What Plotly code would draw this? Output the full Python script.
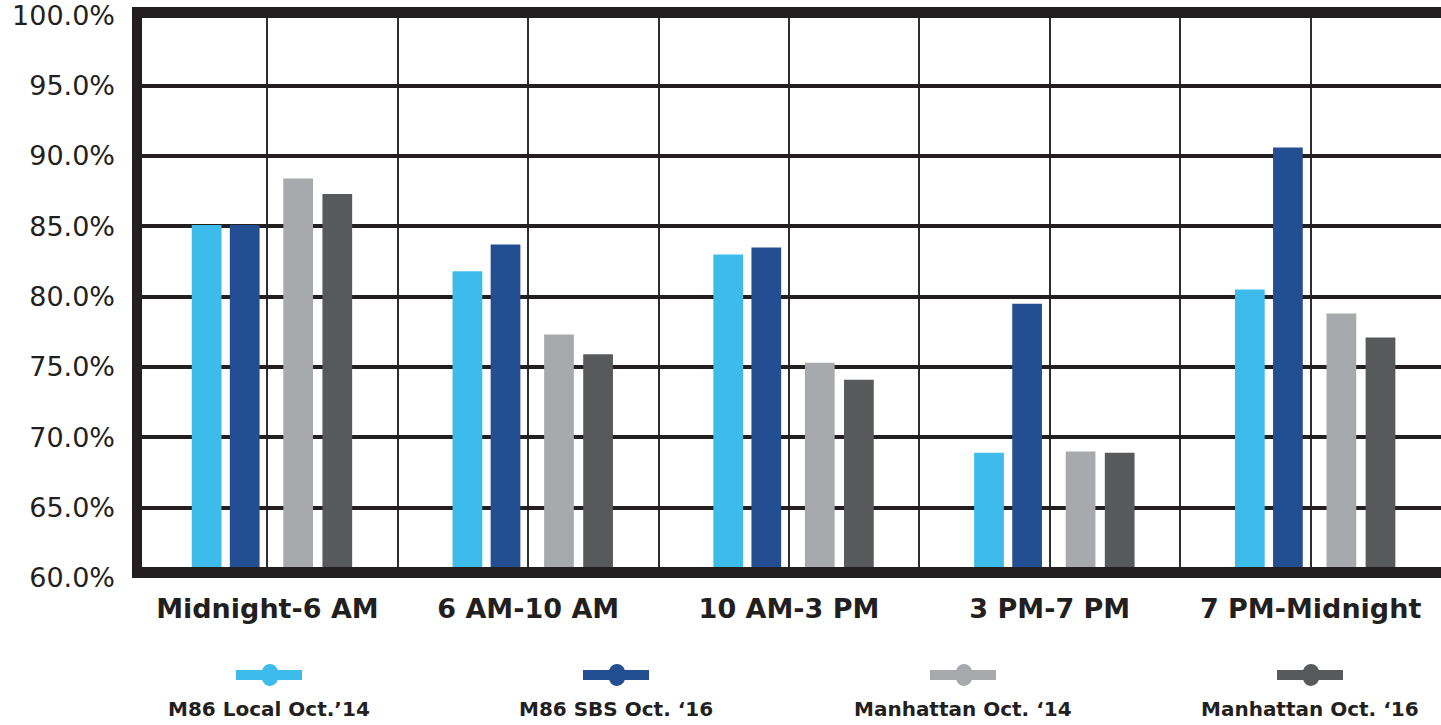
import plotly.graph_objects as go

# ---- data ----
categories = ["Midnight-6 AM", "6 AM-10 AM", "10 AM-3 PM", "3 PM-7 PM", "7 PM-Midnight"]
series_names = ["M86 Local Oct.\u201914", "M86 SBS Oct. \u201816", "Manhattan Oct. \u201814", "Manhattan Oct. \u201816"]
m86_local_oct14 = [85.1, 81.8, 83.0, 68.9, 80.5]
m86_sbs_oct16 = [85.1, 83.7, 83.5, 79.5, 90.6]
manhattan_oct14 = [88.4, 77.3, 75.3, 69.0, 78.8]
manhattan_oct16 = [87.3, 75.9, 74.1, 68.9, 77.1]
y_ticks = [60, 65, 70, 75, 80, 85, 90, 95, 100]
y_tick_labels = ["60.0%", "65.0%", "70.0%", "75.0%", "80.0%", "85.0%", "90.0%", "95.0%", "100.0%"]

# ---- style ----
colors = ["#3dbbeb", "#234f92", "#a8a9ac", "#58595b"]
offsets = [-0.29, -0.144, 0.061, 0.211]
bar_w = 0.114
INK = "#231f20"

W, H = 1441, 725
L, R, T, B = 137, 0, 15, 147
PW, PH = W - L - R, H - T - B

def px_x(px):
    return (px - L) / PW

def px_y(py):
    return (H - B - py) / PH

xpos = list(range(len(categories)))
all_series = [m86_local_oct14, m86_sbs_oct16, manhattan_oct14, manhattan_oct16]

fig = go.Figure()
for name, vals, col, off in zip(series_names, all_series, colors, offsets):
    fig.add_trace(go.Bar(
        x=xpos, y=[v - 60 for v in vals], base=60, name=name,
        marker=dict(color=col, line=dict(width=0)),
        offset=off, width=bar_w, showlegend=False,
        hovertemplate="%{y:.1f}%<extra>" + name + "</extra>",
    ))

fig.update_layout(
    width=W, height=H,
    margin=dict(l=L, r=R, t=T, b=B, pad=0),
    paper_bgcolor="white", plot_bgcolor="white",
    barmode="overlay",
    showlegend=False,
)

fig.update_xaxes(
    range=[-0.5, len(categories) - 0.5],
    tickmode="array", tickvals=xpos, ticktext=categories,
    tickfont=dict(family="DejaVu Sans", size=27, color=INK, weight="bold"),
    ticks="", ticklabelstandoff=12,
    showgrid=True, gridcolor="#2e2e2e", gridwidth=2,
    minor=dict(tickmode="array", tickvals=[i + 0.5 for i in xpos[:-1]],
               showgrid=True, gridcolor="#2e2e2e", gridwidth=2, ticks=""),
    zeroline=False, showline=False, fixedrange=True,
)
fig.update_yaxes(
    range=[60, 100.02],
    tickmode="array", tickvals=y_ticks, ticktext=y_tick_labels,
    tickfont=dict(family="DejaVu Sans", size=27, color=INK),
    ticks="", ticklabelstandoff=21, ticklabeloverflow="allow",
    showgrid=True, gridcolor=INK, gridwidth=3.5,
    zeroline=False, showline=False, fixedrange=True,
)

shapes = []

def rect(x0, y0, x1, y1, color):
    return dict(type="rect", xref="paper", yref="paper",
                x0=px_x(x0), x1=px_x(x1), y0=px_y(y1), y1=px_y(y0),
                fillcolor=color, line=dict(width=0), layer="above")

# frame (left, top, bottom)
shapes.append(rect(132, 7, W + 5, 18, INK))
shapes.append(rect(132, 567, W + 5, 578, INK))
shapes.append(rect(132, 7, 142, 578, INK))

# custom legend: icon (bar + dot) above label
annotations = []
for i, (name, col) in enumerate(zip(series_names, colors)):
    cx = 269 + i * 347
    cy = 675
    shapes.append(rect(cx - 33, cy - 5, cx + 33, cy + 5, col))
    shapes.append(dict(type="circle", xref="paper", yref="paper",
                       x0=px_x(cx - 8), x1=px_x(cx + 10),
                       y0=px_y(cy + 11), y1=px_y(cy - 11),
                       fillcolor=col, line=dict(width=0), layer="above"))
    annotations.append(dict(
        xref="paper", yref="paper", x=px_x(cx), y=px_y(709),
        text=name, showarrow=False, xanchor="center", yanchor="middle",
        font=dict(family="DejaVu Sans", size=20, color=INK, weight="bold"),
    ))

fig.update_layout(shapes=shapes, annotations=annotations)

fig.write_html(
    "out.html",
    config={"displayModeBar": False},
    post_script="document.body.style.margin='0';document.body.style.overflow='hidden';",
)
